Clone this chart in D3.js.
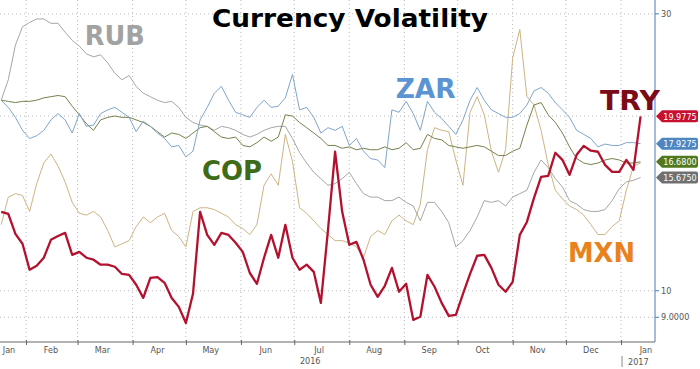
<!DOCTYPE html>
<html>
<head>
<meta charset="utf-8">
<script src="https://cdn.jsdelivr.net/npm/d3@7"></script>
<style>
  body { margin: 0; background: #fff; overflow: hidden; }
  .tick-label { font-family: "DejaVu Sans Condensed", "DejaVu Sans", sans-serif; font-size: 9px; fill: #555; }
  .big-label { font-family: "DejaVu Sans", Verdana, sans-serif; font-weight: bold; font-size: 26px; }
</style>
</head>
<body>
<div id="plot"></div>
<script>
const width = 700;
const height = 369;
const plot = {left: 0, right: 655, top: 0, bottom: 342};

// sampling: one observation every 4 days starting Jan 18 2016
const startDate = new Date(2016, 0, 18);
const stepDays = 4;

const rub = [21.3, 23.1, 26.5, 28.5, 29.0, 29.4, 29.4, 28.9, 28.9, 27.9, 27.0, 26.4, 25.6, 25.3, 25.5, 24.7,
  23.7, 23.1, 23.5, 22.5, 21.9, 21.6, 21.3, 21.1, 21.2, 20.7, 19.9, 19.5, 19.3, 19.2, 18.9, 19.2, 19.1, 18.9,
  18.6, 18.4, 18.6, 18.9, 19.1, 19.2, 19.2, 18.3, 17.3, 16.6, 16.0, 15.6, 15.2, 15.3, 15.6, 16.0, 15.3, 14.7,
  14.5, 14.5, 14.3, 14.3, 14.5, 14.2, 14.0, 13.2, 14.2, 14.2, 13.7, 13.1, 11.9, 12.2, 12.7, 13.4, 14.3, 14.2,
  14.3, 14.0, 14.5, 14.7, 14.9, 16.0, 16.8, 16.3, 15.6, 15.1, 14.3, 14.1, 13.8, 13.7, 13.7, 13.8, 14.3, 15.0,
  15.4, 15.5, 15.675];

const zar = [21.3, 20.7, 19.9, 18.9, 18.3, 18.5, 18.9, 19.7, 20.2, 19.7, 18.7, 20.2, 19.2, 19.3, 20.2, 20.5,
  20.7, 20.3, 19.9, 18.8, 19.6, 19.2, 18.7, 18.3, 17.7, 17.8, 17.0, 17.4, 19.7, 20.7, 21.9, 22.5, 21.3, 20.3,
  20.1, 19.9, 20.7, 21.3, 20.7, 20.8, 21.5, 23.6, 20.5, 20.7, 19.9, 18.7, 19.1, 18.9, 19.2, 17.8, 18.3, 17.4,
  16.9, 16.8, 16.3, 20.5, 20.3, 21.2, 20.2, 18.9, 21.2, 20.3, 19.8, 19.2, 18.6, 19.7, 21.3, 22.4, 21.3, 20.5,
  20.2, 19.9, 19.9, 20.2, 20.9, 22.1, 22.4, 21.9, 21.1, 20.5, 19.9, 18.9, 18.6, 18.3, 17.7, 17.9, 17.8, 17.8,
  18.0, 18.0, 17.9275];

const cop = [21.3, 21.2, 21.1, 21.2, 21.2, 21.3, 21.5, 21.6, 21.7, 21.6, 20.8, 20.1, 19.4, 18.9, 19.7, 19.9,
  20.0, 19.9, 19.9, 19.7, 19.5, 19.2, 18.8, 18.4, 18.7, 18.6, 18.3, 18.7, 19.1, 19.2, 18.8, 18.4, 18.3, 18.4,
  17.8, 17.7, 18.0, 18.4, 18.1, 18.4, 20.1, 20.0, 19.5, 19.1, 18.7, 18.3, 17.8, 17.8, 17.6, 17.7, 17.5, 17.6,
  17.5, 17.5, 17.7, 17.5, 17.6, 18.0, 17.5, 17.6, 18.6, 18.3, 18.2, 17.8, 17.7, 17.6, 17.7, 17.8, 17.7, 17.4,
  17.1, 17.1, 17.4, 17.6, 19.3, 20.9, 21.1, 20.1, 19.5, 18.7, 17.7, 16.9, 16.6, 16.5, 16.6, 16.8, 16.9, 16.8,
  16.6, 16.6, 16.68];

const mxn = [13.0, 14.5, 14.7, 14.6, 13.7, 15.3, 16.6, 17.2, 16.4, 15.4, 14.2, 13.6, 13.5, 13.7, 13.4, 12.7,
  11.9, 12.05, 12.2, 12.9, 13.4, 13.1, 13.4, 13.6, 12.7, 12.4, 11.9, 13.7, 13.9, 13.9, 13.8, 13.6, 13.4, 13.0,
  12.8, 12.5, 13.0, 15.2, 15.9, 15.2, 18.6, 16.7, 13.9, 13.6, 13.2, 12.8, 12.5, 12.2, 12.2, 12.1, 11.9, 11.4,
  12.4, 12.7, 12.5, 13.2, 13.5, 13.2, 13.0, 14.1, 17.5, 19.1, 18.9, 18.8, 16.8, 15.2, 20.3, 21.6, 20.1, 17.4,
  16.0, 17.5, 25.2, 28.2, 21.6, 20.9, 18.9, 16.5, 14.9, 14.4, 14.0, 13.8, 13.5, 13.0, 12.5, 12.5, 12.9, 13.2,
  14.9, 16.4, 16.6];

const tryl = [13.68, 13.57, 12.53, 12.05, 10.87, 11.04, 11.40, 12.24, 12.43, 12.58, 11.53, 11.67, 11.40, 11.31,
  11.09, 11.09, 11.00, 10.69, 10.65, 10.24, 9.72, 10.52, 10.56, 10.32, 9.72, 9.38, 8.80, 9.88, 13.68, 12.48,
  12.00, 12.58, 12.48, 12.10, 11.67, 10.73, 10.28, 11.40, 12.48, 11.40, 12.99, 11.40, 10.87, 11.09, 10.78, 9.53,
  12.72, 17.36, 13.68, 12.00, 12.14, 11.31, 10.24, 9.76, 10.20, 10.95, 9.96, 10.28, 8.91, 9.02, 10.65, 10.16,
  9.53, 9.05, 9.09, 9.88, 10.69, 11.49, 11.53, 10.95, 10.24, 9.96, 10.36, 12.48, 13.14, 14.46, 15.71, 15.77,
  17.29, 16.81, 15.84, 17.15, 17.77, 17.43, 17.36, 16.48, 16.03, 16.03, 16.81, 16.16, 19.9775];

const series = [
  {name: "MXN", values: mxn, color: "#cdb483", width: 1},
  {name: "RUB", values: rub, color: "#a6a6a6", width: 1},
  {name: "COP", values: cop, color: "#76814c", width: 1},
  {name: "ZAR", values: zar, color: "#7fa6ca", width: 1},
  {name: "TRY", values: tryl, color: "#b3122f", width: 2.3}
];

const monthNames = ["Jan", "Feb", "Mar", "Apr", "May", "Jun", "Jul", "Aug", "Sep", "Oct", "Nov", "Dec", "Jan"];
const gridValues = [30, 20, 10, 9];
const axisLabels = [{v: 30, t: "30"}, {v: 10, t: "10"}, {v: 9, t: "9.0000"}];

const tags = [
  {v: 19.9775, t: "19.9775", color: "#c8102e"},
  {v: 17.9275, t: "17.9275", color: "#4f86c0"},
  {v: 16.68, t: "16.6800", color: "#52781f"},
  {v: 15.675, t: "15.6750", color: "#707070"}
];

const labels = [
  {t: "RUB", v: 26.5, d: "2016-03-22", w: 60, color: "#a2a2a2"},
  {t: "ZAR", v: 21.5, d: "2016-09-13", w: 60, color: "#5b93d3"},
  {t: "COP", v: 15.5, d: "2016-05-27", w: 60, color: "#3e6b17"},
  {t: "TRY", v: 20.5, d: "2017-01-06", w: 60, color: "#7a0c18"},
  {t: "MXN", v: 11.2, d: "2016-12-21", w: 67, color: "#e8821c"}
];

const dates = rub.map((d, i) => d3.timeDay.offset(startDate, i * stepDays));

const x = d3.scaleTime()
  .domain([new Date(2016, 0, 17, 8), new Date(2017, 0, 20, 3)])
  .range([plot.left, plot.right]);

const y = d3.scaleLog()
  .domain([8.16, 31.7])
  .range([plot.bottom, plot.top]);

const svg = d3.select("#plot")
  .append("svg")
  .attr("width", width)
  .attr("height", height);

svg.append("rect").attr("width", width).attr("height", height).attr("fill", "#fff");

// grid
const monthStarts = d3.timeMonths(new Date(2016, 1, 1), new Date(2017, 0, 2));

svg.selectAll(".vgrid")
  .data(monthStarts)
  .enter().append("line")
  .attr("class", "vgrid")
  .attr("x1", d => x(d)).attr("x2", d => x(d))
  .attr("y1", plot.top).attr("y2", plot.bottom)
  .attr("stroke", "#b8b8b8")
  .attr("stroke-dasharray", "1,3");

svg.selectAll(".hgrid")
  .data(gridValues)
  .enter().append("line")
  .attr("class", "hgrid")
  .attr("x1", plot.left).attr("x2", plot.right)
  .attr("y1", d => y(d)).attr("y2", d => y(d))
  .attr("stroke", "#b8b8b8")
  .attr("stroke-dasharray", "1,3");

// lines
const line = d3.line()
  .x((d, i) => x(dates[i]))
  .y(d => y(d));

svg.selectAll(".series")
  .data(series)
  .enter().append("path")
  .attr("class", "series")
  .attr("fill", "none")
  .attr("stroke", d => d.color)
  .attr("stroke-width", d => d.width)
  .attr("stroke-linejoin", "round")
  .attr("d", d => line(d.values));

// bottom axis
const xAxis = d3.axisBottom(x)
  .tickValues(monthStarts)
  .tickSize(3)
  .tickFormat("");

const xAxisG = svg.append("g")
  .attr("transform", `translate(0,${plot.bottom})`)
  .call(xAxis);
xAxisG.select(".domain").attr("stroke", "#666").attr("d", `M${plot.left},0H${plot.right}`);
xAxisG.selectAll(".tick line").attr("stroke", "#666").attr("y1", -2);

const midMonths = d3.timeMonths(new Date(2016, 0, 1), new Date(2017, 0, 2))
  .map(d => new Date(d.getFullYear(), d.getMonth(), 15));

svg.selectAll(".month-label")
  .data(midMonths)
  .enter().append("text")
  .attr("class", "tick-label")
  .attr("text-anchor", "middle")
  .attr("x", d => Math.max(x(d), 9))
  .attr("y", 353)
  .text((d, i) => monthNames[i]);

svg.append("text")
  .attr("class", "tick-label")
  .attr("text-anchor", "middle")
  .attr("x", x(new Date(2016, 6, 10)))
  .attr("y", 364)
  .text("2016");

svg.append("line")
  .attr("x1", x(new Date(2017, 0, 1)) + 1).attr("x2", x(new Date(2017, 0, 1)) + 1)
  .attr("y1", 356).attr("y2", 367)
  .attr("stroke", "#888");

svg.append("text")
  .attr("class", "tick-label")
  .attr("x", x(new Date(2017, 0, 1)) + 7)
  .attr("y", 365)
  .text("2017");

// right axis
svg.append("line")
  .attr("x1", plot.right).attr("x2", plot.right)
  .attr("y1", plot.top).attr("y2", plot.bottom)
  .attr("stroke", "#4a7db4");

const yAxisG = svg.selectAll(".ylab")
  .data(axisLabels)
  .enter().append("g")
  .attr("transform", d => `translate(${plot.right},${y(d.v)})`);

yAxisG.append("line").attr("x1", 0).attr("x2", 4).attr("stroke", "#4a7db4");
yAxisG.append("text")
  .attr("class", "tick-label")
  .attr("x", 6)
  .attr("dy", "0.35em")
  .text(d => d.t);

// value tags
const tagG = svg.selectAll(".tag")
  .data(tags)
  .enter().append("g")
  .attr("transform", d => `translate(${plot.right + 1},${y(d.v)})`);

tagG.append("path")
  .attr("d", "M0,0L6,-6H40Q42,-6 42,-4V4Q42,6 40,6H6Z")
  .attr("fill", d => d.color);

tagG.append("text")
  .attr("x", 24)
  .attr("dy", "0.35em")
  .attr("text-anchor", "middle")
  .attr("fill", "#fff")
  .style("font-family", "'DejaVu Sans Condensed', 'DejaVu Sans', sans-serif")
  .style("font-size", "9px")
  .text(d => d.t);

// currency labels
svg.selectAll(".big")
  .data(labels)
  .enter().append("text")
  .attr("class", "big-label")
  .attr("text-anchor", "middle")
  .attr("x", d => x(d3.isoParse(d.d)))
  .attr("y", d => y(d.v))
  .attr("fill", d => d.color)
  .attr("textLength", d => d.w)
  .attr("lengthAdjust", "spacingAndGlyphs")
  .text(d => d.t);

// title
svg.append("text")
  .attr("class", "big-label")
  .attr("text-anchor", "middle")
  .attr("x", 350)
  .attr("y", 27)
  .attr("fill", "#000")
  .style("font-size", "25px")
  .attr("textLength", 276)
  .attr("lengthAdjust", "spacingAndGlyphs")
  .text("Currency Volatility");
</script>
</body>
</html>
